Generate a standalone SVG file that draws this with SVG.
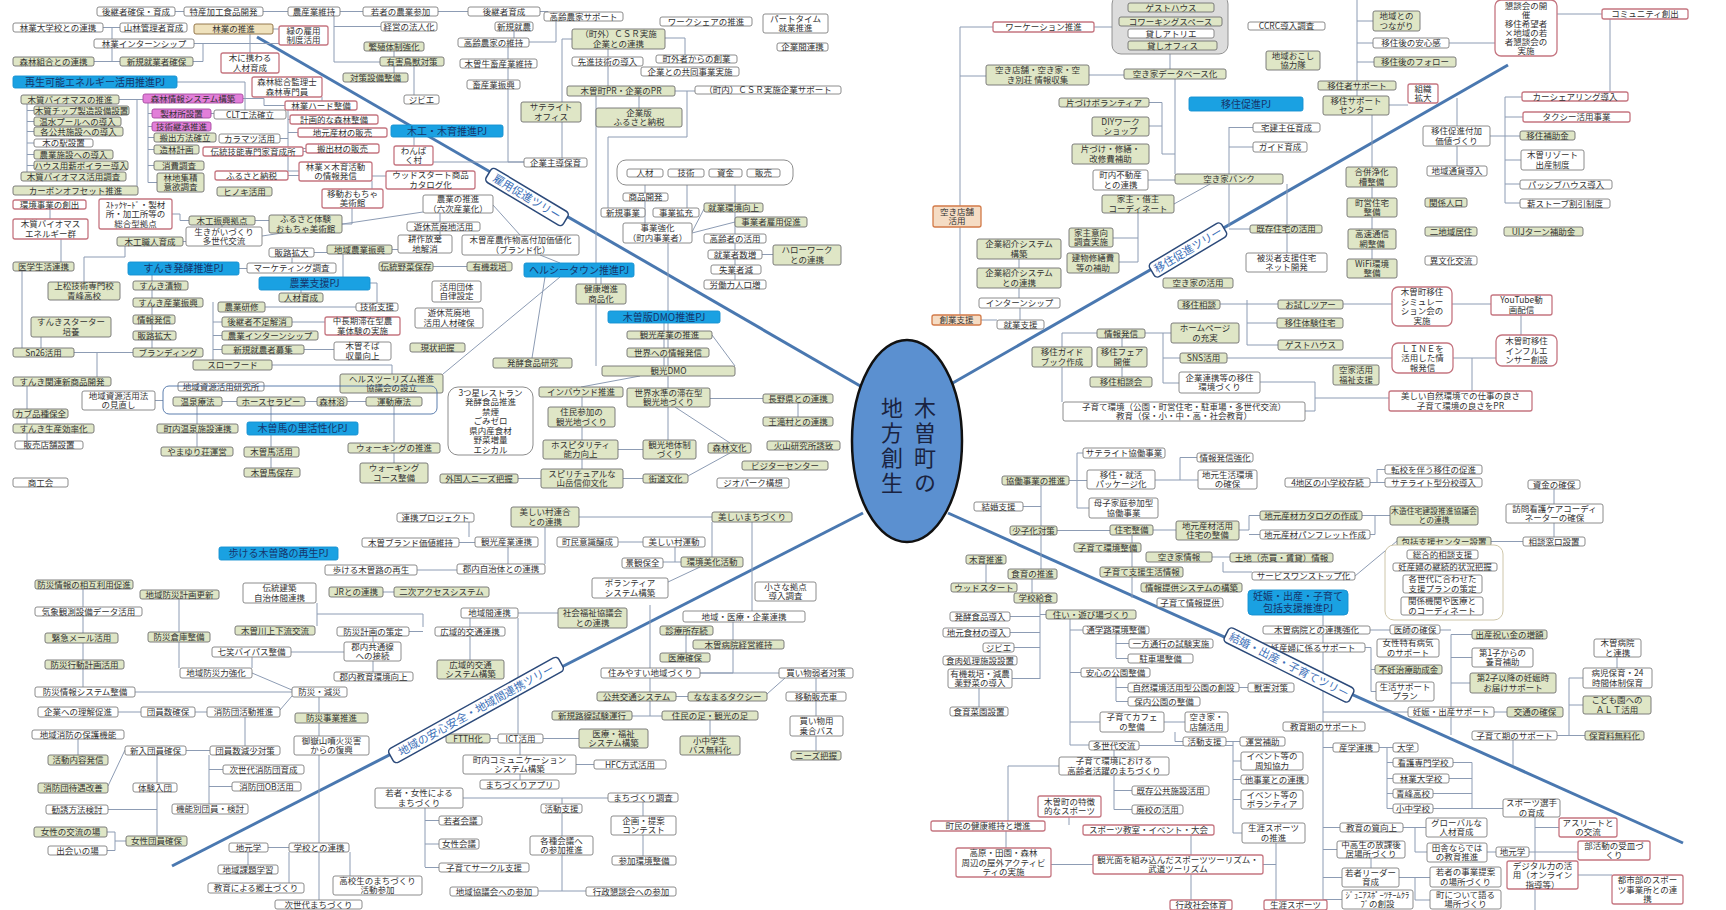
<svg xmlns="http://www.w3.org/2000/svg" width="1726" height="910" viewBox="0 0 1726 910">
<style>
text{font-family:"Noto Sans CJK JP","Noto Sans",sans-serif;font-size:8.5px;fill:#333;text-anchor:middle}
rect{rx:2;stroke-width:0.9}
.g rect{fill:#dfe6c6;stroke:#6f6f6f}
.w rect{fill:#fff;stroke:#7f7f7f}
.p rect{fill:#fff;stroke:#c57580;stroke-width:1.3}
.b rect{fill:#1aa1e2;stroke:#1590d0}
.b text{fill:#16356b;font-size:10px}
.m rect{fill:#e27fd9;stroke:#a64aa0}
.t rect{fill:#efe2bd;stroke:#8b6b3d}
.o rect{fill:#f5dcc4;stroke:#d27a48;stroke-width:1.3}
.c rect{rx:9}
#connectors path{fill:none;stroke:#8d9cb4;stroke-width:1}
#trunks path{fill:none;stroke:#4a78b0;stroke-width:3}
.lab rect{fill:#fff;stroke:#2c4a7a;stroke-width:1.5;rx:4}
.lab text{fill:#3d70b8;font-size:11px}
.ctr text{font-size:22px;fill:#1a2340;writing-mode:vertical-rl;letter-spacing:3px}
</style>
<rect width="1726" height="910" fill="#fff"/>
<g id="trunks">
<path d="M257 37L862 387"/><path d="M951 384L1508 65"/><path d="M863 513L172 866"/><path d="M948 513L1683 843"/>
</g>
<g id="connectors">
<path d="M175 11.5H184M263 11.5H288M340 11.5H363M438 11.5H468M540 11.5H548V12M103 27.5H120M112 27.5V61.5M94 61.5H120M194 43.5H279M203 43.5V61.5H193M273 29H279M250 34V53M334 11.5V62M334 26.5H381M334 62H380M394 46V73M414 66V95M322 97V101M177 82H245V110M119 99.5H143M137 99.5V186M27 104V176.5M27 110.5H34M27 121.5H34M27 131.5H34M27 143H34M27 154.5H34M27 165.5H34M27 176.5H21M148 103V182.5M148 113.5H152M148 126.5H152M148 137.5H154M148 149.5H154M148 165.5H154M148 182.5H157M243 98.5H264V105.5H285M288 110V171M288 119.5H290M288 132.5H298M288 148.5H306M288 171H299M280 138.5H288M211 113.5H214M303 151.5H306M50 209V219M61 239V262M22 271V348M172 214H180V220.5H189M255 220.5H269M222 225V227M183 241.5H186M125 246V257H84V282M372 181V189M342 224H352V208M288 175.5H299M372 176H386M414 137V146M423 212L262 236M314 252.5H327M343 254V277M392 249.5H398M292 258V263M440 213V222M440 231V235M493 205L520 235M540 255L560 263M433 266.5H467M560 277L443 374M545 277L532 358M596 96V366M668 243V366M639 96V108M675 91H695M687 91V137H608V208M572 39H562V158M665 38H685V55M608 49V57M608 66V86M514 31V38M508 47V162H524M433 162H524M556 21V42H529M645 185V193M645 201V223M687 185V208M735 185V203M735 212V234M735 243V250M735 259V265M735 274V280M692 232L704 209M692 233L735 222M762 254.5H773M601 277V284"/>
<path d="M239 268.5H247M152 275V348M74 352.5H133M97 352.5V377M41 337V348M27 386V441M301 290V293M370 283H377V303M265 307H356M213 302V360M213 322H222M213 335.5H222M213 349.5H222M292 322H325M304 349.5H334M272 365H392V374M155 400.5H163M222 401.5H237M305 401.5H317M347 401.5H366M197 406V424M271 406V422M271 435V447M271 457V468M394 406V443M394 453V463M197 433V447"/>
<path d="M664 323V331M664 339V348M664 357V366M712 335L735 366M668 376V440M640 376L581 387M710 398.5H763M798 403V417M675 407L730 443M582 397V469M618 449.5H643M623 478.5H643M688 476L730 453M518 478.5H541"/>
<path d="M579 517H712M712 522V557M752 522V611M618 542H643M675 547V562H663M675 562H681M700 567L668 582M545 527V564M469 522V537M459 542.5H475M508 547V564M417 570H457M383 592H394M317 603V626M317 614H423V627M409 631.5H423M518 613H558M470 618V627M470 636V660M518 618V734M733 622V673H700M686 635V653M650 605V716H632M650 716H662M700 673H779M676 696.5H688M767 694L785 678M816 678V692M816 701V716M816 736V751M710 720V736M490 738.5H498M543 738.5H579M520 743V755M576 764.5H594M520 774V780M463 798H608M562 798V891M538 891H586M643 802V816M643 835V856M425 808V867M425 820.5H439M425 844H439M425 867.5H439"/>
<path d="M83 589V687M179 599V668M252 673L292 690M291 652H344M252 657V668M373 636V642M373 661V672M135 692H292M319 697V902M280 710L292 696M118 712H141M195 712H207M245 717V746M186 750.5H210M209 755V804M209 769.5H223M209 786.5H232M157 755V836M108 809.5H157M108 786L125 750M78 739V755M107 832H115V850.5H107M115 841H126M268 847.5H289M248 852V865M350 852V876M289 852V883"/>
<path d="M960 27V315M960 27H993M960 76H986M1094 27H1112M1089 75H1124M1170 54V69M1175 79V174M1149 102.5H1162V154H1175M1149 126H1162M1148 180H1175M1210 184L1174 204M1138 213V262M1113 238H1138M1119 262H1138M1019 259V268M1019 288V298M981 320H997M1020 308V320M1229 127V227M1229 127.5H1253M1229 147H1253M1229 229H1250M1287 184V225M1287 233V253M1357 0V81M1357 21H1373M1357 43H1373M1357 62H1374M1357 90V96M1389 105H1408M1372 115V167M1372 187V198M1372 217V229M1372 249V259M1449 43H1495M1557 14H1602M1610 19V92M1457 98V126M1457 146V166M1490 136H1505M1505 97V203M1505 97H1522M1505 117H1523M1505 136H1520M1505 160H1521M1505 184H1520M1505 203H1520M1220 304H1278M1343 304H1392M1452 304H1491M1521 315V335M1453 358H1496M1472 358V391M1145 333H1163V383H1179M1163 358H1180M1163 333H1171M1062 333V402M1062 333H1097M1122 367V377M1247 300V345M1247 323H1277M1247 345H1278M1227 358H1392M1260 382H1315V398H1389M1305 411H1315V398M1122 338V347"/>
<path d="M1077 453V508M1077 453H1083M1077 508H1089M1069 480.5H1087M1155 480H1180V457.5H1197M1180 480H1198M1041 485V526M1041 535V569M1023 506.5H1041M986 564V583M1032 579V593M1153 530H1176M1239 530H1249V515.5H1260M1249 534.5H1260M1362 515.5H1375V534.5H1370M1375 515.5H1390M1132 535V598M1057 530.5H1110M1212 557H1230M1223 562V572H1252M1355 576L1397 541M1491 541.5H1523M1554 489V504M1554 523V537M1370 482.5H1377V469.5H1385M1377 482.5H1385M1323 615V910M1370 630H1390M1365 647.5H1371M1371 647.5V691.5M1371 669.5H1375M1371 691.5H1376M1451 634.5V735M1451 634.5H1472M1451 657.5H1472M1451 683H1470M1440 630H1451M1494 712H1507M1557 735.5H1569M1569 678V735.5M1569 678H1583M1569 705H1583M1569 735.5H1585M1617 657V668M1513 740V765M1379 747.5H1393M1387 747.5V808.5M1387 762.5H1393M1387 778.5H1393M1387 793.5H1393M1387 808.5H1393M1453 762.5H1472V808.5M1449 778.5H1472M1433 793.5H1472M1433 808.5H1503M1535 817V910M1535 827.5H1559M1578 875H1612M1529 852H1578M1403 827.5H1426M1415 827.5V852H1427M1487 852H1496M1371 858V868M1399 877.5H1415V900H1430M1415 877.5H1430M1323 747.5H1333M1323 827.5H1340M1323 849.5H1337M1323 877.5H1342M1323 899.5H1342M1323 712H1408"/>
<path d="M1070 619V745H1089M1070 630H1083M1070 672.5H1081M1070 722H1100M1116 634V658M1116 643.5H1129M1116 658.5H1128M1116 677V701M1116 687.5H1128M1116 701.5H1128M1239 687.5H1248M1164 722H1185M1175 732V741.5H1183M1226 741.5H1240M1233 741.5V833M1233 761H1241M1233 779.5H1241M1233 799.5H1241M1233 833H1242M1139 745.5H1233M1114 750V757M1114 775V809.5M1114 790.5H1132M1114 809.5H1132M1059 766H1008V821M1069 817V825M1006 831V848M1051 864.5H1093M1191 835V855M1191 874V900M1263 864.5H1276M1276 843V900M1040 598V679M1010 616.5H1040M1010 632.5H1040M1014 647.5H1040M1012 678.5H1040M1040 614.5H1046M979 688V707"/>
</g>
<g id="nodes">
<g id="n1" class="w"><rect x="97" y="7" width="78" height="9"/><text x="136" y="14.5">後継者確保・育成</text></g>
<g id="n2" class="w"><rect x="184" y="7" width="79" height="9"/><text x="223.5" y="14.5">特産加工食品開発</text></g>
<g id="n3" class="w"><rect x="288" y="7" width="52" height="9"/><text x="314" y="14.5">農産業維持</text></g>
<g id="n4" class="w"><rect x="363" y="7" width="75" height="9"/><text x="400.5" y="14.5">若者の農業参加</text></g>
<g id="n5" class="w"><rect x="468" y="7" width="72" height="9"/><text x="504" y="14.5">後継者育成</text></g>
<g id="n6" class="w"><rect x="544" y="12" width="79" height="9"/><text x="583.5" y="19.5">高齢農家サポート</text></g>
<g id="n7" class="w"><rect x="13" y="23" width="90" height="9"/><text x="58" y="30.5">林業大学校との連携</text></g>
<g id="n8" class="w"><rect x="120" y="23" width="67" height="9"/><text x="153.5" y="30.5">山林管理者育成</text></g>
<g id="n9" class="t"><rect x="194" y="24" width="79" height="10"/><text x="233.5" y="32">林業の推進</text></g>
<g id="n10" class="p"><rect x="279" y="26" width="49" height="19"/><text x="303.5" y="33.8">緑の雇用<tspan x="303.5" dy="9.5">制度活用</tspan></text></g>
<g id="n11" class="w"><rect x="381" y="22" width="56" height="9"/><text x="409" y="29.5">経営の法人化</text></g>
<g id="n12" class="w"><rect x="495" y="22" width="38" height="9"/><text x="514" y="29.5">新規就農</text></g>
<g id="n13" class="w"><rect x="94" y="39" width="100" height="9"/><text x="144" y="46.5">林業インターンシップ</text></g>
<g id="n14" class="w"><rect x="458" y="38" width="71" height="9"/><text x="493.5" y="45.5">高齢農家の維持</text></g>
<g id="n15" class="g"><rect x="364" y="42" width="60" height="9"/><text x="394" y="49.5">繁殖体制強化</text></g>
<g id="n16" class="g"><rect x="13" y="57" width="81" height="9"/><text x="53.5" y="64.5">森林組合との連携</text></g>
<g id="n17" class="g"><rect x="120" y="57" width="73" height="9"/><text x="156.5" y="64.5">新規就業者確保</text></g>
<g id="n18" class="p"><rect x="221" y="53" width="58" height="20"/><text x="250" y="61.3">木に携わる<tspan x="250" dy="9.5">人材育成</tspan></text></g>
<g id="n19" class="g"><rect x="380" y="57" width="64" height="9"/><text x="412" y="64.5">有害鳥獣対策</text></g>
<g id="n20" class="w"><rect x="460" y="59" width="77" height="9"/><text x="498.5" y="66.5">木曽牛畜産業維持</text></g>
<g id="n21" class="g"><rect x="343" y="73" width="65" height="9"/><text x="375.5" y="80.5">対策設備整備</text></g>
<g id="n22" class="b"><rect x="13" y="76" width="164" height="12"/><text x="95" y="85.5">再生可能エネルギー活用推進PJ</text></g>
<g id="n23" class="p"><rect x="252" y="77" width="70" height="20"/><text x="287" y="85.3">森林総合監理士<tspan x="287" dy="9.5">森林専門員</tspan></text></g>
<g id="n24" class="w"><rect x="467" y="80" width="53" height="9"/><text x="493.5" y="87.5">畜産業振興</text></g>
<g id="n25" class="g"><rect x="21" y="95" width="98" height="9"/><text x="70" y="102.5">木質バイオマスの推進</text></g>
<g id="n26" class="m"><rect x="143" y="94" width="100" height="9"/><text x="193" y="101.5">森林情報システム構築</text></g>
<g id="n27" class="w"><rect x="404" y="95" width="35" height="9"/><text x="421.5" y="102.5">ジビエ</text></g>
<g id="n28" class="p"><rect x="285" y="101" width="72" height="9"/><text x="321" y="108.5">林業ハード整備</text></g>
<g id="n29" class="g"><rect x="34" y="106" width="95" height="9"/><text x="81.5" y="113.5">木質チップ製造設備設置</text></g>
<g id="n30" class="m"><rect x="152" y="109" width="59" height="9"/><text x="181.5" y="116.5">製材所設置</text></g>
<g id="n31" class="w"><rect x="214" y="110" width="72" height="9"/><text x="250" y="117.5">CLT工法確立</text></g>
<g id="n32" class="g"><rect x="34" y="117" width="87" height="9"/><text x="77.5" y="124.5">温水プールへの導入</text></g>
<g id="n33" class="m"><rect x="152" y="122" width="59" height="9"/><text x="181.5" y="129.5">技術継承推進</text></g>
<g id="n34" class="p"><rect x="290" y="115" width="88" height="9"/><text x="334" y="122.5">計画的な森林整備</text></g>
<g id="n35" class="g"><rect x="34" y="127" width="89" height="9"/><text x="78.5" y="134.5">各公共施設への導入</text></g>
<g id="n36" class="g"><rect x="154" y="133" width="62" height="9"/><text x="185" y="140.5">搬出方法確立</text></g>
<g id="n37" class="w"><rect x="219" y="134" width="61" height="9"/><text x="249.5" y="141.5">カラマツ活用</text></g>
<g id="n38" class="p"><rect x="298" y="128" width="89" height="9"/><text x="342.5" y="135.5">地元産材の販売</text></g>
<g id="n39" class="b"><rect x="391" y="125" width="112" height="12"/><text x="447" y="134.5">木工・木育推進PJ</text></g>
<g id="n40" class="w"><rect x="34" y="139" width="59" height="8"/><text x="63.5" y="146">木の駅設置</text></g>
<g id="n41" class="g"><rect x="154" y="145" width="45" height="9"/><text x="176.5" y="152.5">造林計画</text></g>
<g id="n42" class="p"><rect x="203" y="147" width="100" height="9"/><text x="253" y="154.5">伝統技能専門家育成所</text></g>
<g id="n43" class="p"><rect x="306" y="144" width="73" height="9"/><text x="342.5" y="151.5">搬出材の販売</text></g>
<g id="n44" class="p"><rect x="394" y="146" width="39" height="19"/><text x="413.5" y="153.8">わんぱ<tspan x="413.5" dy="9.5">く村</tspan></text></g>
<g id="n45" class="g"><rect x="34" y="150" width="79" height="9"/><text x="73.5" y="157.5">農業施設への導入</text></g>
<g id="n46" class="g"><rect x="34" y="161" width="94" height="9"/><text x="81" y="168.5">ハウス用薪ボイラー導入</text></g>
<g id="n47" class="g"><rect x="154" y="161" width="50" height="9"/><text x="179" y="168.5">消費調査</text></g>
<g id="n48" class="p"><rect x="299" y="162" width="73" height="19"/><text x="335.5" y="169.8">林業×木育活動<tspan x="335.5" dy="9.5">の情報発信</tspan></text></g>
<g id="n49" class="g"><rect x="21" y="172" width="105" height="9"/><text x="73.5" y="179.5">木質バイオマス活用調査</text></g>
<g id="n50" class="g"><rect x="157" y="173" width="47" height="19"/><text x="180.5" y="180.8">林地集積<tspan x="180.5" dy="9.5">意欲調査</tspan></text></g>
<g id="n51" class="p"><rect x="215" y="171" width="73" height="9"/><text x="251.5" y="178.5">ふるさと納税</text></g>
<g id="n52" class="p"><rect x="386" y="171" width="89" height="18"/><text x="430.5" y="178.3">ウッドスタート商品<tspan x="430.5" dy="9.5">カタログ化</tspan></text></g>
<g id="n53" class="g"><rect x="13" y="186" width="125" height="9"/><text x="75.5" y="193.5">カーボンオフセット推進</text></g>
<g id="n54" class="g"><rect x="217" y="187" width="55" height="9"/><text x="244.5" y="194.5">ヒノキ活用</text></g>
<g id="n55" class="p"><rect x="322" y="189" width="61" height="19"/><text x="352.5" y="196.8">移動おもちゃ<tspan x="352.5" dy="9.5">美術館</tspan></text></g>
<g id="n56" class="p"><rect x="13" y="200" width="73" height="9"/><text x="49.5" y="207.5">環境事業の創出</text></g>
<g id="n57" class="p"><rect x="99" y="199" width="73" height="30"/><text x="135.5" y="207.5">ｽﾄｯｸﾔｰﾄﾞ・製材<tspan x="135.5" dy="9.5">所・加工所等の</tspan><tspan x="135.5" dy="9.5">総合型拠点</tspan></text></g>
<g id="n58" class="w"><rect x="423" y="195" width="70" height="18"/><text x="458" y="202.3">農業の推進<tspan x="458" dy="9.5">（六次産業化）</tspan></text></g>
<g id="n59" class="g"><rect x="189" y="216" width="66" height="9"/><text x="222" y="223.5">木工振興拠点</text></g>
<g id="n60" class="g"><rect x="269" y="215" width="73" height="18"/><text x="305.5" y="222.3">ふるさと体験<tspan x="305.5" dy="9.5">おもちゃ美術館</tspan></text></g>
<g id="n61" class="p"><rect x="13" y="219" width="75" height="20"/><text x="50.5" y="227.3">木質バイオマス<tspan x="50.5" dy="9.5">エネルギー群</tspan></text></g>
<g id="n62" class="w"><rect x="407" y="222" width="73" height="9"/><text x="443.5" y="229.5">遊休荒廃地活用</text></g>
<g id="n63" class="w"><rect x="186" y="227" width="76" height="19"/><text x="224" y="234.8">生きがいづくり<tspan x="224" dy="9.5">多世代交流</tspan></text></g>
<g id="n64" class="g"><rect x="117" y="237" width="66" height="9"/><text x="150" y="244.5">木工職人育成</text></g>
<g id="n65" class="w"><rect x="398" y="235" width="54" height="18"/><text x="425" y="242.3">耕作放棄<tspan x="425" dy="9.5">地解消</tspan></text></g>
<g id="n66" class="w"><rect x="462" y="235" width="117" height="20"/><text x="520.5" y="243.3">木曽産農作物高付加価値化<tspan x="520.5" dy="9.5">（ブランド化）</tspan></text></g>
<g id="n67" class="w"><rect x="269" y="248" width="45" height="9"/><text x="291.5" y="255.5">販路拡大</text></g>
<g id="n68" class="g"><rect x="327" y="245" width="65" height="9"/><text x="359.5" y="252.5">地域農業振興</text></g>
<g id="n69" class="g"><rect x="13" y="262" width="61" height="9"/><text x="43.5" y="269.5">医学生活連携</text></g>
<g id="n70" class="b"><rect x="128" y="262" width="111" height="13"/><text x="183.5" y="272">すんき発酵推進PJ</text></g>
<g id="n71" class="w"><rect x="247" y="263" width="89" height="10"/><text x="291.5" y="271">マーケティング調査</text></g>
<g id="n72" class="g"><rect x="379" y="262" width="54" height="9"/><text x="406" y="269.5">伝統野菜保存</text></g>
<g id="n73" class="g"><rect x="467" y="262" width="45" height="9"/><text x="489.5" y="269.5">有機栽培</text></g>
<g id="n74" class="b"><rect x="524" y="263" width="110" height="14"/><text x="579" y="273.5">ヘルシータウン推進PJ</text></g>
<g id="n75" class="b"><rect x="259" y="277" width="111" height="13"/><text x="314.5" y="287">農業支援PJ</text></g>
<g id="n76" class="g"><rect x="48" y="282" width="72" height="18"/><text x="84" y="289.3">上松技術専門校<tspan x="84" dy="9.5">青峰高校</tspan></text></g>
<g id="n77" class="g"><rect x="133" y="281" width="55" height="9"/><text x="160.5" y="288.5">すんき漬物</text></g>
<g id="n78" class="w"><rect x="432" y="281" width="49" height="21"/><text x="456.5" y="289.8">活用団体<tspan x="456.5" dy="9.5">自律設定</tspan></text></g>
<g id="n79" class="g"><rect x="576" y="284" width="50" height="20"/><text x="601" y="292.3">健康増進<tspan x="601" dy="9.5">商品化</tspan></text></g>
<g id="n80" class="g"><rect x="279" y="293" width="44" height="9"/><text x="301" y="300.5">人材育成</text></g>
<g id="n81" class="g"><rect x="133" y="298" width="70" height="9"/><text x="168" y="305.5">すんき産業振興</text></g>
<g id="n82" class="g"><rect x="218" y="302" width="47" height="10"/><text x="241.5" y="310">農業研修</text></g>
<g id="n83" class="w"><rect x="356" y="303" width="42" height="8"/><text x="377" y="310">技術支援</text></g>
<g id="n84" class="g"><rect x="572" y="29" width="93" height="20"/><text x="618.5" y="37.3">（町外）ＣＳＲ実施<tspan x="618.5" dy="9.5">企業との連携</tspan></text></g>
<g id="n85" class="w"><rect x="660" y="17" width="92" height="9"/><text x="706" y="24.5">ワークシェアの推進</text></g>
<g id="n86" class="w"><rect x="763" y="14" width="65" height="19"/><text x="795.5" y="21.8">パートタイム<tspan x="795.5" dy="9.5">就業推進</tspan></text></g>
<g id="n87" class="w"><rect x="777" y="43" width="51" height="8"/><text x="802.5" y="50">企業間連携</text></g>
<g id="n88" class="w"><rect x="572" y="57" width="71" height="9"/><text x="607.5" y="64.5">先進技術の導入</text></g>
<g id="n89" class="w"><rect x="656" y="55" width="81" height="8"/><text x="696.5" y="62">町外者からの創業</text></g>
<g id="n90" class="w"><rect x="641" y="67" width="98" height="9"/><text x="690" y="74.5">企業との共同事業実施</text></g>
<g id="n91" class="g"><rect x="567" y="86" width="108" height="10"/><text x="621" y="94">木曽町PR・企業のPR</text></g>
<g id="n92" class="w"><rect x="695" y="86" width="146" height="8"/><text x="768" y="93">（町内）ＣＳＲ実施企業サポート</text></g>
<g id="n93" class="g"><rect x="521" y="102" width="60" height="20"/><text x="551" y="110.3">サテライト<tspan x="551" dy="9.5">オフィス</tspan></text></g>
<g id="n94" class="g"><rect x="596" y="108" width="86" height="19"/><text x="639" y="115.8">企業版<tspan x="639" dy="9.5">ふるさと納税</tspan></text></g>
<g id="n95" class="w"><rect x="524" y="158" width="63" height="9"/><text x="555.5" y="165.5">企業主導保育</text></g>
<g id="n96" class="w c"><rect x="617" y="160" width="176" height="25"/></g>
<g id="n97" class="w"><rect x="627" y="169" width="36" height="8"/><text x="645" y="176">人材</text></g>
<g id="n98" class="w"><rect x="668" y="169" width="36" height="8"/><text x="686" y="176">技術</text></g>
<g id="n99" class="w"><rect x="709" y="169" width="33" height="8"/><text x="725.5" y="176">資金</text></g>
<g id="n100" class="w"><rect x="747" y="169" width="33" height="8"/><text x="763.5" y="176">販売</text></g>
<g id="n101" class="w"><rect x="623" y="193" width="45" height="8"/><text x="645.5" y="200">商品開発</text></g>
<g id="n102" class="w"><rect x="601" y="208" width="44" height="9"/><text x="623" y="215.5">新規事業</text></g>
<g id="n103" class="w"><rect x="653" y="208" width="46" height="9"/><text x="676" y="215.5">事業拡充</text></g>
<g id="n104" class="g"><rect x="704" y="203" width="59" height="9"/><text x="733.5" y="210.5">就業環境向上</text></g>
<g id="n105" class="g"><rect x="735" y="217" width="72" height="10"/><text x="771" y="225">事業者雇用促進</text></g>
<g id="n106" class="w"><rect x="623" y="223" width="69" height="20"/><text x="657.5" y="231.3">事業強化<tspan x="657.5" dy="9.5">（町内事業者）</tspan></text></g>
<g id="n107" class="w"><rect x="704" y="234" width="62" height="9"/><text x="735" y="241.5">高齢者の活用</text></g>
<g id="n108" class="w"><rect x="708" y="250" width="54" height="9"/><text x="735" y="257.5">就業者数増</text></g>
<g id="n109" class="g"><rect x="773" y="245" width="68" height="20"/><text x="807" y="253.3">ハローワーク<tspan x="807" dy="9.5">との連携</tspan></text></g>
<g id="n110" class="w"><rect x="711" y="265" width="50" height="9"/><text x="736" y="272.5">失業者減</text></g>
<g id="n111" class="w"><rect x="704" y="280" width="62" height="9"/><text x="735" y="287.5">労働力人口増</text></g>
<g id="n112" class="c"><rect x="1112" y="-5" width="116" height="59" fill="#dcdcdc" stroke="#888" stroke-width="1.2"/></g>
<g id="n113" class="g"><rect x="1128" y="3" width="86" height="9"/><text x="1171" y="10.5">ゲストハウス</text></g>
<g id="n114" class="g"><rect x="1119" y="17" width="103" height="9"/><text x="1170.5" y="24.5">コワーキングスペース</text></g>
<g id="n115" class="w"><rect x="1128" y="29" width="86" height="9"/><text x="1171" y="36.5">貸しアトリエ</text></g>
<g id="n116" class="g"><rect x="1128" y="41" width="89" height="9"/><text x="1172.5" y="48.5">貸しオフィス</text></g>
<g id="n117" class="p"><rect x="993" y="22" width="101" height="10"/><text x="1043.5" y="30">ワーケーション推進</text></g>
<g id="n118" class="g"><rect x="986" y="65" width="103" height="20"/><text x="1037.5" y="73.3">空き店舗・空き家・空<tspan x="1037.5" dy="9.5">き別荘 情報収集</tspan></text></g>
<g id="n119" class="g"><rect x="1124" y="69" width="102" height="10"/><text x="1175" y="77">空き家データベース化</text></g>
<g id="n120" class="w"><rect x="1248" y="22" width="77" height="8"/><text x="1286.5" y="29">CCRC導入調査</text></g>
<g id="n121" class="g"><rect x="1266" y="51" width="54" height="19"/><text x="1293" y="58.8">地域おこし<tspan x="1293" dy="9.5">協力隊</tspan></text></g>
<g id="n122" class="g"><rect x="1373" y="11" width="47" height="20"/><text x="1396.5" y="19.3">地域との<tspan x="1396.5" dy="9.5">つながり</tspan></text></g>
<g id="n123" class="w"><rect x="1373" y="38" width="76" height="10"/><text x="1411" y="46">移住後の安心感</text></g>
<g id="n124" class="g"><rect x="1374" y="57" width="82" height="10"/><text x="1415" y="65">移住後のフォロー</text></g>
<g id="n125" class="p"><rect x="1495" y="0" width="62" height="56" style="rx:6"/><text x="1526" y="8.5">懇談会の開<tspan x="1526" dy="9">催</tspan><tspan x="1526" dy="9">移住希望者</tspan><tspan x="1526" dy="9">×地域の若</tspan><tspan x="1526" dy="9">者懇談会の</tspan><tspan x="1526" dy="9">実施</tspan></text></g>
<g id="n126" class="p"><rect x="1602" y="9" width="86" height="10"/><text x="1645" y="17">コミュニティ創出</text></g>
<g id="n127" class="g"><rect x="1318" y="81" width="78" height="9"/><text x="1357" y="88.5">移住者サポート</text></g>
<g id="n128" class="g"><rect x="1323" y="96" width="66" height="19"/><text x="1356" y="103.8">移住サポート<tspan x="1356" dy="9.5">センター</tspan></text></g>
<g id="n129" class="p"><rect x="1408" y="84" width="30" height="19"/><text x="1423" y="91.8">組織<tspan x="1423" dy="9.5">拡大</tspan></text></g>
<g id="n130" class="p"><rect x="1522" y="92" width="106" height="9"/><text x="1575" y="99.5">カーシェアリング導入</text></g>
<g id="n131" class="p"><rect x="1523" y="112" width="107" height="10"/><text x="1576.5" y="120">タクシー活用事業</text></g>
<g id="n132" class="b"><rect x="1189" y="97" width="114" height="14"/><text x="1246" y="107.5">移住促進PJ</text></g>
<g id="n133" class="g"><rect x="1059" y="98" width="90" height="9"/><text x="1104" y="105.5">片づけボランティア</text></g>
<g id="n134" class="g"><rect x="1092" y="117" width="57" height="19"/><text x="1120.5" y="124.8">DIYワーク<tspan x="1120.5" dy="9.5">ショップ</tspan></text></g>
<g id="n135" class="w"><rect x="1253" y="123" width="67" height="9"/><text x="1286.5" y="130.5">宅建主任育成</text></g>
<g id="n136" class="w"><rect x="1423" y="126" width="67" height="20"/><text x="1456.5" y="134.3">移住促進付加<tspan x="1456.5" dy="9.5">価値づくり</tspan></text></g>
<g id="n137" class="g"><rect x="1520" y="131" width="55" height="9"/><text x="1547.5" y="138.5">移住補助金</text></g>
<g id="n138" class="w"><rect x="1253" y="142" width="54" height="10"/><text x="1280" y="150">ガイド育成</text></g>
<g id="n139" class="g"><rect x="1072" y="144" width="77" height="20"/><text x="1110.5" y="152.3">片づけ・修繕・<tspan x="1110.5" dy="9.5">改修費補助</tspan></text></g>
<g id="n140" class="w"><rect x="1521" y="150" width="63" height="20"/><text x="1552.5" y="158.3">木曽リゾート<tspan x="1552.5" dy="9.5">出産制度</tspan></text></g>
<g id="n141" class="w"><rect x="1427" y="166" width="60" height="10"/><text x="1457" y="174">地域通貨導入</text></g>
<g id="n142" class="g"><rect x="1346" y="167" width="51" height="20"/><text x="1371.5" y="175.3">合併浄化<tspan x="1371.5" dy="9.5">槽整備</tspan></text></g>
<g id="n143" class="w"><rect x="1093" y="170" width="55" height="20"/><text x="1120.5" y="178.3">町内不動産<tspan x="1120.5" dy="9.5">との連携</tspan></text></g>
<g id="n144" class="g"><rect x="1175" y="174" width="108" height="10"/><text x="1229" y="182">空き家バンク</text></g>
<g id="n145" class="w"><rect x="1520" y="180" width="92" height="9"/><text x="1566" y="187.5">パッシブハウス導入</text></g>
<g id="n146" class="g"><rect x="1102" y="195" width="72" height="18"/><text x="1138" y="202.3">家主・借主<tspan x="1138" dy="9.5">コーディネート</tspan></text></g>
<g id="n147" class="g"><rect x="1425" y="198" width="42" height="9"/><text x="1446" y="205.5">関係人口</text></g>
<g id="n148" class="g"><rect x="1347" y="198" width="50" height="19"/><text x="1372" y="205.8">町営住宅<tspan x="1372" dy="9.5">整備</tspan></text></g>
<g id="n149" class="w"><rect x="1520" y="199" width="90" height="9"/><text x="1565" y="206.5">薪ストーブ割引制度</text></g>
<g id="n150" class="o"><rect x="933" y="206" width="48" height="21"/><text x="957" y="214.8">空き店舗<tspan x="957" dy="9.5">活用</tspan></text></g>
<g id="n151" class="g"><rect x="1250" y="225" width="72" height="8"/><text x="1286" y="232">既存住宅の活用</text></g>
<g id="n152" class="g"><rect x="1425" y="227" width="52" height="9"/><text x="1451" y="234.5">二地域居住</text></g>
<g id="n153" class="g"><rect x="1504" y="227" width="79" height="9"/><text x="1543.5" y="234.5">UIJターン補助金</text></g>
<g id="n154" class="g"><rect x="1069" y="228" width="44" height="19"/><text x="1091" y="235.8">家主意向<tspan x="1091" dy="9.5">調査実施</tspan></text></g>
<g id="n155" class="g"><rect x="1348" y="229" width="48" height="20"/><text x="1372" y="237.3">高速通信<tspan x="1372" dy="9.5">網整備</tspan></text></g>
<g id="n156" class="g"><rect x="977" y="239" width="84" height="20"/><text x="1019" y="247.3">企業紹介システム<tspan x="1019" dy="9.5">構築</tspan></text></g>
<g id="n157" class="w"><rect x="1246" y="253" width="81" height="19"/><text x="1286.5" y="260.8">被災者支援住宅<tspan x="1286.5" dy="9.5">ネット開発</tspan></text></g>
<g id="n158" class="g"><rect x="1067" y="253" width="52" height="20"/><text x="1093" y="261.3">建物修繕費<tspan x="1093" dy="9.5">等の補助</tspan></text></g>
<g id="n159" class="w"><rect x="1425" y="256" width="52" height="9"/><text x="1451" y="263.5">異文化交流</text></g>
<g id="n160" class="g"><rect x="1347" y="259" width="50" height="19"/><text x="1372" y="266.8">WiFi環境<tspan x="1372" dy="9.5">整備</tspan></text></g>
<g id="n161" class="g"><rect x="977" y="268" width="84" height="20"/><text x="1019" y="276.3">企業紹介システム<tspan x="1019" dy="9.5">との連携</tspan></text></g>
<g id="n162" class="g"><rect x="1163" y="278" width="70" height="10"/><text x="1198" y="286">空き家の活用</text></g>
<g id="n163" class="p"><rect x="1392" y="287" width="60" height="39" style="rx:6"/><text x="1422" y="295.3">木曽町移住<tspan x="1422" dy="9.5">シミュレー</tspan><tspan x="1422" dy="9.5">ション会の</tspan><tspan x="1422" dy="9.5">実施</tspan></text></g>
<g id="n164" class="p"><rect x="1491" y="295" width="61" height="20"/><text x="1521.5" y="303.3">YouTube動<tspan x="1521.5" dy="9.5">画配信</tspan></text></g>
<g id="n165" class="w"><rect x="979" y="298" width="81" height="10"/><text x="1019.5" y="306">インターンシップ</text></g>
<g id="n166" class="g"><rect x="1178" y="300" width="42" height="9"/><text x="1199" y="307.5">移住相談</text></g>
<g id="n167" class="g"><rect x="1278" y="300" width="65" height="9"/><text x="1310.5" y="307.5">お試しツアー</text></g>
<g id="n168" class="o"><rect x="932" y="315" width="49" height="10"/><text x="956.5" y="323">創業支援</text></g>
<g id="n169" class="w"><rect x="997" y="320" width="47" height="9"/><text x="1020.5" y="327.5">就業支援</text></g>
<g id="n170" class="g"><rect x="1277" y="318" width="66" height="10"/><text x="1310" y="326">移住体験住宅</text></g>
<g id="n171" class="g"><rect x="1097" y="329" width="48" height="9"/><text x="1121" y="336.5">情報発信</text></g>
<g id="n172" class="g"><rect x="1171" y="323" width="68" height="20"/><text x="1205" y="331.3">ホームページ<tspan x="1205" dy="9.5">の充実</tspan></text></g>
<g id="n173" class="p"><rect x="1496" y="335" width="61" height="31" style="rx:6"/><text x="1526.5" y="344">木曽町移住<tspan x="1526.5" dy="9.5">インフルエ</tspan><tspan x="1526.5" dy="9.5">ンサー創設</tspan></text></g>
<g id="n174" class="g"><rect x="1278" y="340" width="65" height="10"/><text x="1310.5" y="348">ゲストハウス</text></g>
<g id="n175" class="p"><rect x="1392" y="343" width="61" height="30" style="rx:6"/><text x="1422.5" y="351.5">ＬＩＮＥを<tspan x="1422.5" dy="9.5">活用した情</tspan><tspan x="1422.5" dy="9.5">報発信</tspan></text></g>
<g id="n176" class="g"><rect x="1032" y="347" width="60" height="20"/><text x="1062" y="355.3">移住ガイド<tspan x="1062" dy="9.5">ブック作成</tspan></text></g>
<g id="n177" class="g"><rect x="1097" y="347" width="50" height="20"/><text x="1122" y="355.3">移住フェア<tspan x="1122" dy="9.5">開催</tspan></text></g>
<g id="n178" class="g"><rect x="1180" y="353" width="47" height="10"/><text x="1203.5" y="361">SNS活用</text></g>
<g id="n179" class="g"><rect x="1333" y="365" width="46" height="20"/><text x="1356" y="373.3">空家活用<tspan x="1356" dy="9.5">福祉支援</tspan></text></g>
<g id="n180" class="g"><rect x="1090" y="377" width="62" height="10"/><text x="1121" y="385">移住相談会</text></g>
<g id="n181" class="w"><rect x="1179" y="372" width="81" height="21"/><text x="1219.5" y="380.8">企業連携等の移住<tspan x="1219.5" dy="9.5">環境づくり</tspan></text></g>
<g id="n182" class="p"><rect x="1389" y="391" width="143" height="20"/><text x="1460.5" y="399.3">美しい自然環境での仕事の良さ<tspan x="1460.5" dy="9.5">子育て環境の良さをPR</tspan></text></g>
<g id="n183" class="w"><rect x="1063" y="402" width="242" height="19"/><text x="1184" y="409.8">子育て環境（公園・町営住宅・駐車場・多世代交流）<tspan x="1184" dy="9.5">教育（保・小・中・高・社会教育）</tspan></text></g>
<g id="n184" class="w"><rect x="1083" y="448" width="82" height="10"/><text x="1124" y="456">サテライト協働事業</text></g>
<g id="n185" class="w"><rect x="1197" y="453" width="56" height="9"/><text x="1225" y="460.5">情報発信強化</text></g>
<g id="n186" class="w"><rect x="1385" y="465" width="97" height="9"/><text x="1433.5" y="472.5">転校を伴う移住の促進</text></g>
<g id="n187" class="w"><rect x="1087" y="470" width="68" height="19"/><text x="1121" y="477.8">移住・就活<tspan x="1121" dy="9.5">パッケージ化</tspan></text></g>
<g id="n188" class="g"><rect x="1002" y="476" width="67" height="9"/><text x="1035.5" y="483.5">協働事業の推進</text></g>
<g id="n189" class="w"><rect x="1198" y="470" width="59" height="19"/><text x="1227.5" y="477.8">地元生活環境<tspan x="1227.5" dy="9.5">の確保</tspan></text></g>
<g id="n190" class="w"><rect x="1285" y="478" width="85" height="9"/><text x="1327.5" y="485.5">4地区の小学校存続</text></g>
<g id="n191" class="w"><rect x="1385" y="478" width="97" height="9"/><text x="1433.5" y="485.5">サテライト型分校導入</text></g>
<g id="n192" class="w"><rect x="1528" y="480" width="52" height="9"/><text x="1554" y="487.5">資金の確保</text></g>
<g id="n193" class="w"><rect x="1089" y="498" width="69" height="20"/><text x="1123.5" y="506.3">母子家庭参加型<tspan x="1123.5" dy="9.5">協働事業</tspan></text></g>
<g id="n194" class="w"><rect x="974" y="502" width="49" height="9"/><text x="998.5" y="509.5">結婚支援</text></g>
<g id="n195" class="w"><rect x="1506" y="504" width="97" height="19"/><text x="1554.5" y="511.8">訪問看護ケアコーディ<tspan x="1554.5" dy="9.5">ネーターの確保</tspan></text></g>
<g id="n196" class="g"><rect x="1390" y="506" width="88" height="19"/><text x="1434" y="513.8" style="font-size:7.8px">木造住宅建設推進協議会<tspan x="1434" dy="9.5">との連携</tspan></text></g>
<g id="n197" class="g"><rect x="1260" y="511" width="102" height="9"/><text x="1311" y="518.5">地元産材カタログの作成</text></g>
<g id="n198" class="g"><rect x="1110" y="525" width="43" height="10"/><text x="1131.5" y="533">住宅整備</text></g>
<g id="n199" class="g"><rect x="1176" y="521" width="63" height="19"/><text x="1207.5" y="528.8">地元産材活用<tspan x="1207.5" dy="9.5">住宅の整備</tspan></text></g>
<g id="n200" class="g"><rect x="1010" y="526" width="47" height="9"/><text x="1033.5" y="533.5">少子化対策</text></g>
<g id="n201" class="w"><rect x="1260" y="530" width="110" height="9"/><text x="1315" y="537.5">地元産材パンフレット作成</text></g>
<g id="n202" class="w"><rect x="1523" y="537" width="62" height="9"/><text x="1554" y="544.5">相談窓口設置</text></g>
<g id="n203" class="g"><rect x="1397" y="537" width="94" height="9"/><text x="1444" y="544.5">包括支援センター設置</text></g>
<g id="n204" class="g"><rect x="1074" y="543" width="67" height="9"/><text x="1107.5" y="550.5">子育て環境整備</text></g>
<g id="n205" class="c"><rect x="1385" y="545" width="118" height="75" fill="#fff" stroke="#c8c0a0" stroke-width="1.2"/></g>
<g id="n206" class="w"><rect x="1407" y="550" width="71" height="9"/><text x="1442.5" y="557.5">総合的相談支援</text></g>
<g id="n207" class="g"><rect x="1146" y="552" width="66" height="10"/><text x="1179" y="560">空き家情報</text></g>
<g id="n208" class="g"><rect x="1230" y="553" width="103" height="9"/><text x="1281.5" y="560.5">土地（売買・賃貸）情報</text></g>
<g id="n209" class="g"><rect x="966" y="555" width="40" height="9"/><text x="986" y="562.5">木育推進</text></g>
<g id="n210" class="w"><rect x="1393" y="563" width="104" height="8"/><text x="1445" y="570">妊産婦の継続的状況把握</text></g>
<g id="n211" class="g"><rect x="1100" y="567" width="83" height="10"/><text x="1141.5" y="575">子育て支援生活情報</text></g>
<g id="n212" class="g"><rect x="1008" y="569" width="49" height="10"/><text x="1032.5" y="577">食育の推進</text></g>
<g id="n213" class="w"><rect x="1252" y="572" width="103" height="8"/><text x="1303.5" y="579">サービスワンストップ化</text></g>
<g id="n214" class="w"><rect x="1403" y="575" width="79" height="18"/><text x="1442.5" y="582.3">各世代に合わせた<tspan x="1442.5" dy="9.5">支援プランの策定</tspan></text></g>
<g id="n215" class="g"><rect x="951" y="583" width="66" height="9"/><text x="984" y="590.5">ウッドスタート</text></g>
<g id="n216" class="g"><rect x="1141" y="583" width="101" height="9"/><text x="1191.5" y="590.5">情報提供システムの構築</text></g>
<g id="n217" class="b"><rect x="1248" y="590" width="100" height="25" style="rx:4"/><text x="1298" y="600">妊娠・出産・子育て<tspan x="1298" dy="12">包括支援推進PJ</tspan></text></g>
<g id="n218" class="g"><rect x="1014" y="593" width="43" height="10"/><text x="1035.5" y="601">学校給食</text></g>
<g id="n219" class="w"><rect x="1157" y="598" width="66" height="9"/><text x="1190" y="605.5">子育て情報提供</text></g>
<g id="n220" class="w"><rect x="1401" y="597" width="82" height="18"/><text x="1442" y="604.3">関係機関や医療と<tspan x="1442" dy="9.5">のコーディネート</tspan></text></g>
<g id="n221" class="w"><rect x="950" y="612" width="60" height="9"/><text x="980" y="619.5">発酵食品導入</text></g>
<g id="n222" class="g"><rect x="1046" y="610" width="90" height="9"/><text x="1091" y="617.5">住い・遊び場づくり</text></g>
<g id="n223" class="w"><rect x="1263" y="626" width="107" height="8"/><text x="1316.5" y="633">木曽病院との連携強化</text></g>
<g id="n224" class="w"><rect x="1390" y="625" width="50" height="9"/><text x="1415" y="632.5">医師の確保</text></g>
<g id="n225" class="w"><rect x="943" y="628" width="67" height="9"/><text x="976.5" y="635.5">地元食材の導入</text></g>
<g id="n226" class="w"><rect x="1083" y="626" width="66" height="8"/><text x="1116" y="633">通学路環境整備</text></g>
<g id="n227" class="g"><rect x="1472" y="630" width="75" height="9"/><text x="1509.5" y="637.5">出産祝い金の増額</text></g>
<g id="n228" class="w"><rect x="1377" y="639" width="62" height="18"/><text x="1408" y="646.3">女性特有病気<tspan x="1408" dy="9.5">のサポート</tspan></text></g>
<g id="n229" class="w"><rect x="1594" y="639" width="47" height="18"/><text x="1617.5" y="646.3">木曽病院<tspan x="1617.5" dy="9.5">と連携</tspan></text></g>
<g id="n230" class="w"><rect x="983" y="643" width="31" height="9"/><text x="998.5" y="650.5">ジビエ</text></g>
<g id="n231" class="w"><rect x="1129" y="639" width="84" height="9"/><text x="1171" y="646.5">一方通行の試験実施</text></g>
<g id="n232" class="w"><rect x="1261" y="643" width="104" height="9"/><text x="1313" y="650.5">妊産婦に係るサポート</text></g>
<g id="n233" class="w"><rect x="1472" y="648" width="61" height="19"/><text x="1502.5" y="655.8">第1子からの<tspan x="1502.5" dy="9.5">養育補助</tspan></text></g>
<g id="n234" class="w"><rect x="943" y="656" width="74" height="9"/><text x="980" y="663.5">食肉処理施設設置</text></g>
<g id="n235" class="w"><rect x="1128" y="654" width="65" height="9"/><text x="1160.5" y="661.5">駐車場整備</text></g>
<g id="n236" class="g"><rect x="1375" y="665" width="67" height="9"/><text x="1408.5" y="672.5">不妊治療助成金</text></g>
<g id="n237" class="w"><rect x="1583" y="668" width="69" height="20"/><text x="1617.5" y="676.3">病児保育・24<tspan x="1617.5" dy="9.5">時間体制保育</tspan></text></g>
<g id="n238" class="w"><rect x="1081" y="668" width="69" height="9"/><text x="1115.5" y="675.5">安心の公園整備</text></g>
<g id="n239" class="w"><rect x="948" y="669" width="64" height="19"/><text x="980" y="676.8">有機栽培・減農<tspan x="980" dy="9.5">薬野菜の導入</tspan></text></g>
<g id="n240" class="g"><rect x="1470" y="673" width="86" height="20"/><text x="1513" y="681.3">第2子以降の妊娠時<tspan x="1513" dy="9.5">お届けサポート</tspan></text></g>
<g id="n241" class="w"><rect x="1376" y="682" width="58" height="19"/><text x="1405" y="689.8">生活サポート<tspan x="1405" dy="9.5">プラン</tspan></text></g>
<g id="n242" class="w"><rect x="1128" y="683" width="111" height="9"/><text x="1183.5" y="690.5">自然環境活用型公園の創設</text></g>
<g id="n243" class="w"><rect x="1248" y="683" width="46" height="9"/><text x="1271" y="690.5">獣害対策</text></g>
<g id="n244" class="g"><rect x="1583" y="696" width="68" height="18"/><text x="1617" y="703.3">こども園への<tspan x="1617" dy="9.5">ＡＬＴ活用</tspan></text></g>
<g id="n245" class="w"><rect x="1128" y="697" width="72" height="9"/><text x="1164" y="704.5">保内公園の整備</text></g>
<g id="n246" class="w"><rect x="950" y="707" width="58" height="9"/><text x="979" y="714.5">食育菜園設置</text></g>
<g id="n247" class="w"><rect x="1408" y="707" width="86" height="10"/><text x="1451" y="715">妊娠・出産サポート</text></g>
<g id="n248" class="g"><rect x="1507" y="707" width="56" height="10"/><text x="1535" y="715">交通の確保</text></g>
<g id="n249" class="w"><rect x="1100" y="712" width="64" height="20"/><text x="1132" y="720.3">子育てカフェ<tspan x="1132" dy="9.5">の整備</tspan></text></g>
<g id="n250" class="w"><rect x="1185" y="712" width="43" height="20"/><text x="1206.5" y="720.3">空き家・<tspan x="1206.5" dy="9.5">店舗活用</tspan></text></g>
<g id="n251" class="w"><rect x="1283" y="722" width="82" height="9"/><text x="1324" y="729.5">教育期のサポート</text></g>
<g id="n252" class="w"><rect x="1472" y="731" width="85" height="9"/><text x="1514.5" y="738.5">子育て期のサポート</text></g>
<g id="n253" class="g"><rect x="1585" y="731" width="59" height="9"/><text x="1614.5" y="738.5">保育料無料化</text></g>
<g id="n254" class="w"><rect x="1183" y="737" width="43" height="9"/><text x="1204.5" y="744.5">活動支援</text></g>
<g id="n255" class="w"><rect x="1240" y="737" width="45" height="9"/><text x="1262.5" y="744.5">運営補助</text></g>
<g id="n256" class="w"><rect x="1089" y="741" width="50" height="9"/><text x="1114" y="748.5">多世代交流</text></g>
<g id="n257" class="w"><rect x="1333" y="743" width="46" height="9"/><text x="1356" y="750.5">産学連携</text></g>
<g id="n258" class="w"><rect x="1393" y="743" width="25" height="9"/><text x="1405.5" y="750.5">大学</text></g>
<g id="n259" class="w"><rect x="1241" y="752" width="62" height="18"/><text x="1272" y="759.3">イベント等の<tspan x="1272" dy="9.5">周知協力</tspan></text></g>
<g id="n260" class="w"><rect x="1059" y="757" width="110" height="18"/><text x="1114" y="764.3">子育て環境における<tspan x="1114" dy="9.5">高齢者活躍のまちづくり</tspan></text></g>
<g id="n261" class="w"><rect x="1393" y="758" width="60" height="9"/><text x="1423" y="765.5">看護専門学校</text></g>
<g id="n262" class="w"><rect x="1393" y="774" width="56" height="9"/><text x="1421" y="781.5">林業大学校</text></g>
<g id="n263" class="w"><rect x="1241" y="775" width="67" height="9"/><text x="1274.5" y="782.5">他事業との連携</text></g>
<g id="n264" class="w"><rect x="1132" y="786" width="77" height="9"/><text x="1170.5" y="793.5">既存公共施設活用</text></g>
<g id="n265" class="w"><rect x="1393" y="789" width="40" height="9"/><text x="1413" y="796.5">青峰高校</text></g>
<g id="n266" class="w"><rect x="1241" y="790" width="62" height="19"/><text x="1272" y="797.8">イベント等の<tspan x="1272" dy="9.5">ボランティア</tspan></text></g>
<g id="n267" class="p"><rect x="1038" y="796" width="63" height="21"/><text x="1069.5" y="804.8">木曽町の特徴<tspan x="1069.5" dy="9.5">的なスポーツ</tspan></text></g>
<g id="n268" class="w"><rect x="1503" y="799" width="57" height="18"/><text x="1531.5" y="806.3">スポーツ選手<tspan x="1531.5" dy="9.5">の育成</tspan></text></g>
<g id="n269" class="w"><rect x="1393" y="804" width="40" height="9"/><text x="1413" y="811.5">小中学校</text></g>
<g id="n270" class="w"><rect x="1132" y="805" width="51" height="9"/><text x="1157.5" y="812.5">廃校の活用</text></g>
<g id="n271" class="p"><rect x="1559" y="818" width="58" height="19"/><text x="1588" y="825.8">アスリートと<tspan x="1588" dy="9.5">の交流</tspan></text></g>
<g id="n272" class="w"><rect x="1340" y="823" width="63" height="9"/><text x="1371.5" y="830.5">教育の質向上</text></g>
<g id="n273" class="w"><rect x="1426" y="818" width="61" height="19"/><text x="1456.5" y="825.8">グローバルな<tspan x="1456.5" dy="9.5">人材育成</tspan></text></g>
<g id="n274" class="p"><rect x="931" y="821" width="114" height="10"/><text x="988" y="829">町民の健康維持と増進</text></g>
<g id="n275" class="p"><rect x="1083" y="825" width="131" height="10"/><text x="1148.5" y="833">スポーツ教室・イベント・大会</text></g>
<g id="n276" class="w"><rect x="1242" y="823" width="63" height="20"/><text x="1273.5" y="831.3">生涯スポーツ<tspan x="1273.5" dy="9.5">の推進</tspan></text></g>
<g id="n277" class="p"><rect x="1578" y="841" width="72" height="19"/><text x="1614" y="848.8">部活動の受皿づ<tspan x="1614" dy="9.5">くり</tspan></text></g>
<g id="n278" class="w"><rect x="1337" y="841" width="68" height="17"/><text x="1371" y="847.8">中高生の放課後<tspan x="1371" dy="9.5">居場所づくり</tspan></text></g>
<g id="n279" class="w"><rect x="1427" y="843" width="60" height="19"/><text x="1457" y="850.8">田舎ならでは<tspan x="1457" dy="9.5">の教育推進</tspan></text></g>
<g id="n280" class="w"><rect x="1496" y="847" width="33" height="10"/><text x="1512.5" y="855">地元学</text></g>
<g id="n281" class="p"><rect x="956" y="848" width="95" height="29"/><text x="1003.5" y="856">高原・田園・森林<tspan x="1003.5" dy="9.5">周辺の屋外アクティビ</tspan><tspan x="1003.5" dy="9.5">ティの実施</tspan></text></g>
<g id="n282" class="p"><rect x="1093" y="855" width="170" height="19"/><text x="1178" y="862.8">観光面を組み込んだスポーツツーリズム・<tspan x="1178" dy="9.5">武道ツーリズム</tspan></text></g>
<g id="n283" class="p"><rect x="1507" y="861" width="71" height="28"/><text x="1542.5" y="868.5">デジタル力の活<tspan x="1542.5" dy="9.5">用（オンライン</tspan><tspan x="1542.5" dy="9.5">指導等）</tspan></text></g>
<g id="n284" class="w"><rect x="1342" y="868" width="57" height="19"/><text x="1370.5" y="875.8">若者リーダー<tspan x="1370.5" dy="9.5">育成</tspan></text></g>
<g id="n285" class="w"><rect x="1430" y="867" width="71" height="20"/><text x="1465.5" y="875.3">若者の事業提案<tspan x="1465.5" dy="9.5">の場所づくり</tspan></text></g>
<g id="n286" class="p"><rect x="1612" y="875" width="71" height="29"/><text x="1647.5" y="883">都市部のスポー<tspan x="1647.5" dy="9.5">ツ事業所との連</tspan><tspan x="1647.5" dy="9.5">携</tspan></text></g>
<g id="n287" class="w"><rect x="1342" y="890" width="71" height="19"/><text x="1377.5" y="897.8">ｼﾞｭﾆｱｽﾎﾟｰﾂﾁｰﾑｸﾗ<tspan x="1377.5" dy="9.5">ﾌﾞの創設</tspan></text></g>
<g id="n288" class="w"><rect x="1430" y="890" width="71" height="19"/><text x="1465.5" y="897.8">町について語る<tspan x="1465.5" dy="9.5">場所づくり</tspan></text></g>
<g id="n289" class="p"><rect x="1170" y="900" width="62" height="10"/><text x="1201" y="908">行政社会体育</text></g>
<g id="n290" class="p"><rect x="1264" y="900" width="63" height="10"/><text x="1295.5" y="908">生涯スポーツ</text></g>
<g id="n291" class="w"><rect x="415" y="308" width="68" height="20"/><text x="449" y="316.3">遊休荒廃地<tspan x="449" dy="9.5">活用人材確保</tspan></text></g>
<g id="n292" class="b"><rect x="608" y="311" width="112" height="12"/><text x="664" y="320.5">木曽版DMO推進PJ</text></g>
<g id="n293" class="g"><rect x="31" y="317" width="80" height="20"/><text x="71" y="325.3">すんきスターター<tspan x="71" dy="9.5">培養</tspan></text></g>
<g id="n294" class="g"><rect x="133" y="315" width="42" height="9"/><text x="154" y="322.5">情報発信</text></g>
<g id="n295" class="g"><rect x="222" y="317" width="70" height="10"/><text x="257" y="325">後継者不足解消</text></g>
<g id="n296" class="p"><rect x="325" y="317" width="75" height="18"/><text x="362.5" y="324.3">中長期滞在型農<tspan x="362.5" dy="9.5">業体験の実施</tspan></text></g>
<g id="n297" class="g"><rect x="133" y="331" width="43" height="9"/><text x="154.5" y="338.5">販路拡大</text></g>
<g id="n298" class="g"><rect x="222" y="331" width="96" height="9"/><text x="270" y="338.5">農業インターンシップ</text></g>
<g id="n299" class="g"><rect x="627" y="331" width="85" height="8"/><text x="669.5" y="338">観光産業の推進</text></g>
<g id="n300" class="g"><rect x="410" y="343" width="55" height="9"/><text x="437.5" y="350.5">現状把握</text></g>
<g id="n301" class="w"><rect x="334" y="342" width="57" height="18"/><text x="362.5" y="349.3">木曽そば<tspan x="362.5" dy="9.5">収量向上</tspan></text></g>
<g id="n302" class="g"><rect x="222" y="345" width="82" height="9"/><text x="263" y="352.5">新規就農者募集</text></g>
<g id="n303" class="g"><rect x="13" y="348" width="61" height="9"/><text x="43.5" y="355.5">Sn26活用</text></g>
<g id="n304" class="g"><rect x="133" y="348" width="70" height="9"/><text x="168" y="355.5">ブランディング</text></g>
<g id="n305" class="g"><rect x="627" y="348" width="82" height="9"/><text x="668" y="355.5">世界への情報発信</text></g>
<g id="n306" class="g"><rect x="493" y="358" width="79" height="10"/><text x="532.5" y="366">発酵食品研究</text></g>
<g id="n307" class="g"><rect x="193" y="360" width="79" height="10"/><text x="232.5" y="368">スローフード</text></g>
<g id="n308" class="g"><rect x="602" y="366" width="133" height="10"/><text x="668.5" y="374">観光DMO</text></g>
<g id="n309" class="g"><rect x="13" y="377" width="98" height="9"/><text x="62" y="384.5">すんき関連新商品開発</text></g>
<g id="n310" class="w"><rect x="178" y="382" width="86" height="9"/><text x="221" y="389.5">地域資源活用研究所</text></g>
<g id="n311" class="g"><rect x="340" y="374" width="103" height="19"/><text x="391.5" y="381.8">ヘルスツーリズム推進<tspan x="391.5" dy="9.5">協議会の設立</tspan></text></g>
<g id="n312"><rect x="163" y="386" width="274" height="28" fill="none" stroke="#4a6fa5" stroke-width="2.5" style="rx:6"/></g>
<g id="n313" class="w"><rect x="82" y="391" width="73" height="19"/><text x="118.5" y="398.8">地域資源活用法<tspan x="118.5" dy="9.5">の見直し</tspan></text></g>
<g id="n314" class="w"><rect x="448" y="387" width="85" height="68" style="rx:10"/><text x="490.5" y="395.5">3つ星レストラン<tspan x="490.5" dy="9.5">発酵食品推進</tspan><tspan x="490.5" dy="9.5">禁煙</tspan><tspan x="490.5" dy="9.5">ごみゼロ</tspan><tspan x="490.5" dy="9.5">県内産食材</tspan><tspan x="490.5" dy="9.5">野菜増量</tspan><tspan x="490.5" dy="9.5">エシカル</tspan></text></g>
<g id="n315" class="g"><rect x="539" y="387" width="84" height="10"/><text x="581" y="395">インバウンド推進</text></g>
<g id="n316" class="g"><rect x="627" y="388" width="83" height="19"/><text x="668.5" y="395.8">世界水準の滞在型<tspan x="668.5" dy="9.5">観光地づくり</tspan></text></g>
<g id="n317" class="g"><rect x="763" y="394" width="70" height="9"/><text x="798" y="401.5">長野県との連携</text></g>
<g id="n318" class="g"><rect x="173" y="397" width="49" height="9"/><text x="197.5" y="404.5">温泉療法</text></g>
<g id="n319" class="g"><rect x="237" y="397" width="68" height="9"/><text x="271" y="404.5">ホースセラピー</text></g>
<g id="n320" class="g"><rect x="317" y="397" width="30" height="9"/><text x="332" y="404.5">森林浴</text></g>
<g id="n321" class="g"><rect x="366" y="397" width="56" height="9"/><text x="394" y="404.5">運動療法</text></g>
<g id="n322" class="g"><rect x="13" y="409" width="55" height="9"/><text x="40.5" y="416.5">カブ品種保全</text></g>
<g id="n323" class="g"><rect x="548" y="407" width="67" height="20"/><text x="581.5" y="415.3">住民参加の<tspan x="581.5" dy="9.5">観光地づくり</tspan></text></g>
<g id="n324" class="g"><rect x="763" y="417" width="70" height="9"/><text x="798" y="424.5">王滝村との連携</text></g>
<g id="n325" class="g"><rect x="13" y="424" width="81" height="9"/><text x="53.5" y="431.5">すんき生産効率化</text></g>
<g id="n326" class="g"><rect x="157" y="424" width="81" height="9"/><text x="197.5" y="431.5">町内温泉施設連携</text></g>
<g id="n327" class="b"><rect x="247" y="422" width="111" height="13"/><text x="302.5" y="432">木曽馬の里活性化PJ</text></g>
<g id="n328" class="g"><rect x="543" y="440" width="75" height="19"/><text x="580.5" y="447.8">ホスピタリティ<tspan x="580.5" dy="9.5">能力向上</tspan></text></g>
<g id="n329" class="g"><rect x="643" y="440" width="53" height="19"/><text x="669.5" y="447.8">観光地体制<tspan x="669.5" dy="9.5">づくり</tspan></text></g>
<g id="n330" class="g"><rect x="708" y="443" width="43" height="10"/><text x="729.5" y="451">森林文化</text></g>
<g id="n331" class="g"><rect x="767" y="441" width="73" height="9"/><text x="803.5" y="448.5">火山研究所誘致</text></g>
<g id="n332" class="w"><rect x="15" y="441" width="68" height="8"/><text x="49" y="448">販売店舗設置</text></g>
<g id="n333" class="g"><rect x="348" y="443" width="92" height="10"/><text x="394" y="451">ウォーキングの推進</text></g>
<g id="n334" class="g"><rect x="161" y="447" width="72" height="9"/><text x="197" y="454.5">やまゆり荘運営</text></g>
<g id="n335" class="g"><rect x="244" y="447" width="55" height="10"/><text x="271.5" y="455">木曽馬活用</text></g>
<g id="n336" class="g"><rect x="742" y="461" width="86" height="9"/><text x="785" y="468.5">ビジターセンター</text></g>
<g id="n337" class="g"><rect x="244" y="468" width="56" height="9"/><text x="272" y="475.5">木曽馬保存</text></g>
<g id="n338" class="g"><rect x="360" y="463" width="68" height="20"/><text x="394" y="471.3">ウォーキング<tspan x="394" dy="9.5">コース整備</tspan></text></g>
<g id="n339" class="g"><rect x="541" y="469" width="82" height="19"/><text x="582" y="476.8">スピリチュアルな<tspan x="582" dy="9.5">山岳信仰文化</tspan></text></g>
<g id="n340" class="g"><rect x="440" y="474" width="78" height="9"/><text x="479" y="481.5">外国人ニーズ把握</text></g>
<g id="n341" class="g"><rect x="643" y="474" width="45" height="9"/><text x="665.5" y="481.5">街道文化</text></g>
<g id="n342" class="w"><rect x="13" y="478" width="55" height="9"/><text x="40.5" y="485.5">商工会</text></g>
<g id="n343" class="w"><rect x="717" y="478" width="72" height="10"/><text x="753" y="486">ジオパーク構想</text></g>
<g id="n344" class="g"><rect x="511" y="507" width="68" height="20"/><text x="545" y="515.3">美しい村連合<tspan x="545" dy="9.5">との連携</tspan></text></g>
<g id="n345" class="w"><rect x="397" y="513" width="77" height="9"/><text x="435.5" y="520.5">連携プロジェクト</text></g>
<g id="n346" class="g"><rect x="712" y="512" width="80" height="10"/><text x="752" y="520">美しいまちづくり</text></g>
<g id="n347" class="w"><rect x="475" y="537" width="63" height="10"/><text x="506.5" y="545">観光産業連携</text></g>
<g id="n348" class="w"><rect x="362" y="538" width="97" height="9"/><text x="410.5" y="545.5">木曽ブランド価値維持</text></g>
<g id="n349" class="w"><rect x="557" y="537" width="61" height="10"/><text x="587.5" y="545">町民意識醸成</text></g>
<g id="n350" class="w"><rect x="643" y="537" width="62" height="10"/><text x="674" y="545">美しい村運動</text></g>
<g id="n351" class="b"><rect x="219" y="547" width="119" height="13"/><text x="278.5" y="557">歩ける木曽路の再生PJ</text></g>
<g id="n352" class="w"><rect x="622" y="558" width="41" height="10"/><text x="642.5" y="566">景観保全</text></g>
<g id="n353" class="g"><rect x="681" y="557" width="62" height="10"/><text x="712" y="565">環境美化活動</text></g>
<g id="n354" class="w"><rect x="457" y="564" width="88" height="10"/><text x="501" y="572">郡内自治体との連携</text></g>
<g id="n355" class="w"><rect x="325" y="565" width="92" height="10"/><text x="371" y="573">歩ける木曽路の再生</text></g>
<g id="n356" class="w"><rect x="592" y="578" width="76" height="20"/><text x="630" y="586.3">ボランティア<tspan x="630" dy="9.5">システム構築</tspan></text></g>
<g id="n357" class="w"><rect x="755" y="582" width="61" height="19"/><text x="785.5" y="589.8">小さな拠点<tspan x="785.5" dy="9.5">導入調査</tspan></text></g>
<g id="n358" class="g"><rect x="35" y="580" width="98" height="9"/><text x="84" y="587.5">防災情報の相互利用促進</text></g>
<g id="n359" class="w"><rect x="243" y="583" width="73" height="20"/><text x="279.5" y="591.3">伝統建築<tspan x="279.5" dy="9.5">自治体間連携</tspan></text></g>
<g id="n360" class="g"><rect x="329" y="587" width="54" height="10"/><text x="356" y="595">JRとの連携</text></g>
<g id="n361" class="g"><rect x="394" y="587" width="95" height="10"/><text x="441.5" y="595">二次アクセスシステム</text></g>
<g id="n362" class="g"><rect x="140" y="590" width="79" height="9"/><text x="179.5" y="597.5">地域防災計画更新</text></g>
<g id="n363" class="w"><rect x="35" y="607" width="107" height="9"/><text x="88.5" y="614.5">気象観測設備データ活用</text></g>
<g id="n364" class="w"><rect x="461" y="608" width="57" height="10"/><text x="489.5" y="616">地域間連携</text></g>
<g id="n365" class="g"><rect x="558" y="608" width="69" height="20"/><text x="592.5" y="616.3">社会福祉協議会<tspan x="592.5" dy="9.5">との連携</tspan></text></g>
<g id="n366" class="w"><rect x="683" y="611" width="122" height="11"/><text x="744" y="619.5">地域・医療・企業連携</text></g>
<g id="n367" class="w"><rect x="435" y="627" width="70" height="9"/><text x="470" y="634.5">広域的交通連携</text></g>
<g id="n368" class="g"><rect x="660" y="626" width="53" height="9"/><text x="686.5" y="633.5">診療所存続</text></g>
<g id="n369" class="g"><rect x="235" y="626" width="80" height="9"/><text x="275" y="633.5">木曽川上下流交流</text></g>
<g id="n370" class="w"><rect x="337" y="627" width="72" height="9"/><text x="373" y="634.5">防災計画の策定</text></g>
<g id="n371" class="g"><rect x="45" y="633" width="73" height="10"/><text x="81.5" y="641">緊急メール活用</text></g>
<g id="n372" class="g"><rect x="148" y="632" width="62" height="10"/><text x="179" y="640">防災倉庫整備</text></g>
<g id="n373" class="g"><rect x="693" y="640" width="91" height="9"/><text x="738.5" y="647.5">木曽病院経営維持</text></g>
<g id="n374" class="w"><rect x="212" y="647" width="79" height="10"/><text x="251.5" y="655">七笑バイパス整備</text></g>
<g id="n375" class="w"><rect x="344" y="642" width="57" height="19"/><text x="372.5" y="649.8">郡内共通線<tspan x="372.5" dy="9.5">への接続</tspan></text></g>
<g id="n376" class="g"><rect x="660" y="653" width="50" height="9"/><text x="685" y="660.5">医療確保</text></g>
<g id="n377" class="g"><rect x="437" y="660" width="67" height="19"/><text x="470.5" y="667.8">広域的交通<tspan x="470.5" dy="9.5">システム構築</tspan></text></g>
<g id="n378" class="g"><rect x="45" y="660" width="79" height="9"/><text x="84.5" y="667.5">防災行動計画活用</text></g>
<g id="n379" class="w"><rect x="180" y="668" width="72" height="10"/><text x="216" y="676">地域防災力強化</text></g>
<g id="n380" class="w"><rect x="601" y="668" width="99" height="10"/><text x="650.5" y="676">住みやすい地域づくり</text></g>
<g id="n381" class="w"><rect x="779" y="668" width="74" height="10"/><text x="816" y="676">買い物弱者対策</text></g>
<g id="n382" class="w"><rect x="334" y="672" width="79" height="9"/><text x="373.5" y="679.5">郡内教育環境向上</text></g>
<g id="n383" class="w"><rect x="35" y="687" width="100" height="10"/><text x="85" y="695">防災情報システム整備</text></g>
<g id="n384" class="w"><rect x="292" y="687" width="55" height="10"/><text x="319.5" y="695">防災・減災</text></g>
<g id="n385" class="g"><rect x="597" y="692" width="79" height="9"/><text x="636.5" y="699.5">公共交通システム</text></g>
<g id="n386" class="g"><rect x="688" y="692" width="79" height="9"/><text x="727.5" y="699.5">ななまるタクシー</text></g>
<g id="n387" class="w"><rect x="786" y="692" width="60" height="9"/><text x="816" y="699.5">移動販売車</text></g>
<g id="n388" class="w"><rect x="38" y="707" width="80" height="10"/><text x="78" y="715">企業への理解促進</text></g>
<g id="n389" class="w"><rect x="141" y="707" width="54" height="10"/><text x="168" y="715">団員数確保</text></g>
<g id="n390" class="w"><rect x="207" y="707" width="73" height="10"/><text x="243.5" y="715">消防団活動推進</text></g>
<g id="n391" class="g"><rect x="552" y="711" width="80" height="9"/><text x="592" y="718.5">新規路線試験運行</text></g>
<g id="n392" class="g"><rect x="662" y="711" width="96" height="9"/><text x="710" y="718.5">住民の足・観光の足</text></g>
<g id="n393" class="g"><rect x="295" y="713" width="73" height="10"/><text x="331.5" y="721">防災事業推進</text></g>
<g id="n394" class="w"><rect x="790" y="716" width="53" height="20"/><text x="816.5" y="724.3">買い物用<tspan x="816.5" dy="9.5">乗合バス</tspan></text></g>
<g id="n395" class="w"><rect x="32" y="730" width="92" height="9"/><text x="78" y="737.5">地域消防の保護機能</text></g>
<g id="n396" class="g"><rect x="446" y="734" width="44" height="9"/><text x="468" y="741.5">FTTH化</text></g>
<g id="n397" class="w"><rect x="498" y="734" width="45" height="9"/><text x="520.5" y="741.5">ICT活用</text></g>
<g id="n398" class="g"><rect x="579" y="729" width="69" height="19"/><text x="613.5" y="736.8">医療・福祉<tspan x="613.5" dy="9.5">システム構築</tspan></text></g>
<g id="n399" class="w"><rect x="294" y="736" width="75" height="19"/><text x="331.5" y="743.8">御嶽山噴火災害<tspan x="331.5" dy="9.5">からの復興</tspan></text></g>
<g id="n400" class="g"><rect x="680" y="736" width="60" height="19"/><text x="710" y="743.8">小中学生<tspan x="710" dy="9.5">バス無料化</tspan></text></g>
<g id="n401" class="w"><rect x="125" y="746" width="61" height="9"/><text x="155.5" y="753.5">新入団員確保</text></g>
<g id="n402" class="w"><rect x="210" y="746" width="70" height="9"/><text x="245" y="753.5">団員数減少対策</text></g>
<g id="n403" class="g"><rect x="791" y="751" width="50" height="9"/><text x="816" y="758.5">ニーズ把握</text></g>
<g id="n404" class="g"><rect x="48" y="755" width="60" height="10"/><text x="78" y="763">活動内容発信</text></g>
<g id="n405" class="w"><rect x="463" y="755" width="113" height="19"/><text x="519.5" y="762.8">町内コミュニケーション<tspan x="519.5" dy="9.5">システム構築</tspan></text></g>
<g id="n406" class="w"><rect x="594" y="760" width="72" height="9"/><text x="630" y="767.5">HFC方式活用</text></g>
<g id="n407" class="w"><rect x="223" y="765" width="81" height="9"/><text x="263.5" y="772.5">次世代消防団育成</text></g>
<g id="n408" class="w"><rect x="480" y="780" width="79" height="9"/><text x="519.5" y="787.5">まちづくりアプリ</text></g>
<g id="n409" class="g"><rect x="38" y="783" width="70" height="10"/><text x="73" y="791">消防団待遇改善</text></g>
<g id="n410" class="w"><rect x="133" y="783" width="44" height="9"/><text x="155" y="790.5">体験入団</text></g>
<g id="n411" class="w"><rect x="232" y="782" width="69" height="9"/><text x="266.5" y="789.5">消防団OB活用</text></g>
<g id="n412" class="w"><rect x="375" y="788" width="88" height="20"/><text x="419" y="796.3">若者・女性による<tspan x="419" dy="9.5">まちづくり</tspan></text></g>
<g id="n413" class="w"><rect x="608" y="793" width="70" height="9"/><text x="643" y="800.5">まちづくり調査</text></g>
<g id="n414" class="w"><rect x="541" y="804" width="41" height="9"/><text x="561.5" y="811.5">活動支援</text></g>
<g id="n415" class="w"><rect x="46" y="805" width="62" height="9"/><text x="77" y="812.5">勧誘方法検討</text></g>
<g id="n416" class="w"><rect x="172" y="804" width="76" height="10"/><text x="210" y="812">機能別団員・検討</text></g>
<g id="n417" class="w"><rect x="439" y="816" width="43" height="9"/><text x="460.5" y="823.5">若者会議</text></g>
<g id="n418" class="w"><rect x="611" y="816" width="65" height="19"/><text x="643.5" y="823.8">企画・提案<tspan x="643.5" dy="9.5">コンテスト</tspan></text></g>
<g id="n419" class="g"><rect x="34" y="827" width="73" height="10"/><text x="70.5" y="835">女性の交流の場</text></g>
<g id="n420" class="g"><rect x="126" y="836" width="61" height="10"/><text x="156.5" y="844">女性団員確保</text></g>
<g id="n421" class="w"><rect x="530" y="836" width="63" height="19"/><text x="561.5" y="843.8">各種会議へ<tspan x="561.5" dy="9.5">の参加推進</tspan></text></g>
<g id="n422" class="w"><rect x="439" y="839" width="40" height="10"/><text x="459" y="847">女性会議</text></g>
<g id="n423" class="w"><rect x="229" y="843" width="39" height="9"/><text x="248.5" y="850.5">地元学</text></g>
<g id="n424" class="w"><rect x="289" y="843" width="60" height="9"/><text x="319" y="850.5">学校との連携</text></g>
<g id="n425" class="w"><rect x="48" y="846" width="59" height="9"/><text x="77.5" y="853.5">出会いの場</text></g>
<g id="n426" class="w"><rect x="612" y="856" width="64" height="9"/><text x="644" y="863.5">参加環境整備</text></g>
<g id="n427" class="w"><rect x="439" y="863" width="90" height="9"/><text x="484" y="870.5">子育てサークル支援</text></g>
<g id="n428" class="w"><rect x="218" y="865" width="60" height="9"/><text x="248" y="872.5">地域課題学習</text></g>
<g id="n429" class="w"><rect x="333" y="876" width="89" height="19"/><text x="377.5" y="883.8">高校生のまちづくり<tspan x="377.5" dy="9.5">活動参加</tspan></text></g>
<g id="n430" class="w"><rect x="208" y="883" width="96" height="10"/><text x="256" y="891">教育による郷土づくり</text></g>
<g id="n431" class="w"><rect x="450" y="887" width="88" height="9"/><text x="494" y="894.5">地域協議会への参加</text></g>
<g id="n432" class="w"><rect x="586" y="887" width="90" height="9"/><text x="631" y="894.5">行政懇談会への参加</text></g>
<g id="n433" class="w"><rect x="275" y="900" width="87" height="9"/><text x="318.5" y="907.5">次世代まちづくり</text></g>
</g>
<g id="labels">
<g id="lab1" class="lab" transform="translate(527 197) rotate(31)"><rect x="-45" y="-8" width="90" height="16"/><text x="0" y="4">雇用促進ツリー</text></g>
<g id="lab2" class="lab" transform="translate(1188 250) rotate(-31)"><rect x="-42" y="-8" width="84" height="16"/><text x="0" y="4">移住促進ツリー</text></g>
<g id="lab3" class="lab" transform="translate(476 710) rotate(-29)"><rect x="-97" y="-8" width="194" height="16"/><text x="0" y="4">地域の安心安全・地域間連携ツリー</text></g>
<g id="lab4" class="lab" transform="translate(1289 665) rotate(26.5)"><rect x="-70" y="-8" width="140" height="16"/><text x="0" y="4">結婚・出産・子育てツリー</text></g>
</g>
<g id="center" class="ctr">
<ellipse cx="907" cy="441" rx="55" ry="101" fill="#5b90d0" stroke="#111" stroke-width="2.5"/>
<text x="925" y="447">木曽町の</text>
<text x="892" y="447">地方創生</text>
</g>
</svg>
